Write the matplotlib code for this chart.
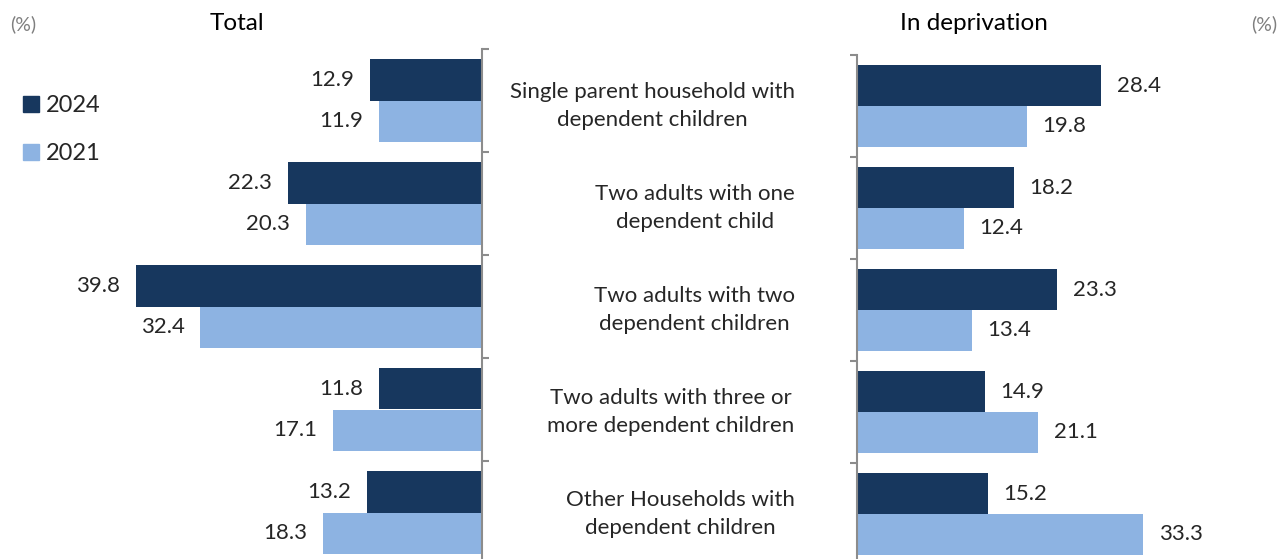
import matplotlib
matplotlib.use("Agg")
import matplotlib.pyplot as plt
from matplotlib.patches import Patch
import numpy as np

plt.rcParams['font.family'] = ['Lato', 'DejaVu Sans']

categories = [
    "Single parent household with\ndependent children",
    "Two adults with one\ndependent child",
    "Two adults with two\ndependent children",
    "Two adults with three or\nmore dependent children",
    "Other Households with\ndependent children",
]
total_2024 = [12.9, 22.3, 39.8, 11.8, 13.2]
total_2021 = [11.9, 20.3, 32.4, 17.1, 18.3]
depriv_2024 = [28.4, 18.2, 23.3, 14.9, 15.2]
depriv_2021 = [19.8, 12.4, 13.4, 21.1, 33.3]
years = ["2024", "2021"]

DARK = "#17375E"
LIGHT = "#8DB3E2"
SPINE = "#8C8C8C"
TEXT = "#262626"

W, H = 1278, 559
fig = plt.figure(figsize=(W / 100, H / 100), dpi=100)


def px_axes(x0, y0, x1, y1):
    return fig.add_axes([x0 / W, (H - y1) / H, (x1 - x0) / W, (y1 - y0) / H])


y = np.arange(len(categories))
bh = 0.4

# Left panel: total, bars extending to the left
axL = px_axes(91, 49, 482, 564)
axL.set_xlim(45, 0)
axL.set_ylim(4.5, -0.5)
bL1 = axL.barh(y - bh / 2, total_2024, height=bh, color=DARK)
bL2 = axL.barh(y + bh / 2, total_2021, height=bh, color=LIGHT)
for bars in (bL1, bL2):
    axL.bar_label(bars, fmt="%.1f", padding=11.5, fontsize=16, color=TEXT)
axL.yaxis.tick_right()
axL.set_yticks(np.arange(-0.5, 5, 1))
axL.set_yticklabels([])
axL.tick_params(axis='y', direction='out', length=5, width=1.5, color=SPINE)
axL.set_xticks([])
for s in ("left", "top", "bottom"):
    axL.spines[s].set_visible(False)
axL.spines["right"].set_color(SPINE)
axL.spines["right"].set_linewidth(1.5)

# Right panel: in deprivation
axR = px_axes(857, 55, 1201, 565)
axR.set_xlim(0, 40)
axR.set_ylim(4.5, -0.5)
bR1 = axR.barh(y - bh / 2, depriv_2024, height=bh, color=DARK)
bR2 = axR.barh(y + bh / 2, depriv_2021, height=bh, color=LIGHT)
for bars in (bR1, bR2):
    axR.bar_label(bars, fmt="%.1f", padding=11, fontsize=16, color=TEXT)
axR.set_yticks(np.arange(-0.5, 5, 1))
axR.set_yticklabels([])
axR.set_yticks(y, minor=True)
axR.set_yticklabels(categories, minor=True, fontsize=16, color=TEXT,
                    ha='right', va='center', multialignment='center',
                    linespacing=1.55)
axR.tick_params(axis='y', which='major', direction='out', length=5,
                width=1.5, color=SPINE)
axR.tick_params(axis='y', which='minor', length=0, pad=45)
axR.set_xticks([])
for s in ("right", "top", "bottom"):
    axR.spines[s].set_visible(False)
axR.spines["left"].set_color(SPINE)
axR.spines["left"].set_linewidth(1.5)

# Titles and unit notes
fig.text(237 / W, 1 - 24 / H, "Total", ha='center', va='center',
         fontsize=17.5, color='black')
fig.text(974 / W, 1 - 24 / H, "In deprivation", ha='center', va='center',
         fontsize=17.5, color='black')
fig.text(10 / W, 1 - 24 / H, "(%)", ha='left', va='center',
         fontsize=14, color='#7F7F7F')
fig.text(1277 / W, 1 - 24 / H, "(%)", ha='right', va='center',
         fontsize=14, color='#7F7F7F')

# Legend
handles = [Patch(color=DARK), Patch(color=LIGHT)]
fig.legend(handles, years, loc='upper left',
           bbox_to_anchor=(2 / W, 1 - 74 / H), frameon=False,
           fontsize=17, handlelength=0.65, handleheight=0.65,
           handletextpad=0.3, labelspacing=1.15, labelcolor=TEXT)

fig.savefig("out.png", dpi=100)
